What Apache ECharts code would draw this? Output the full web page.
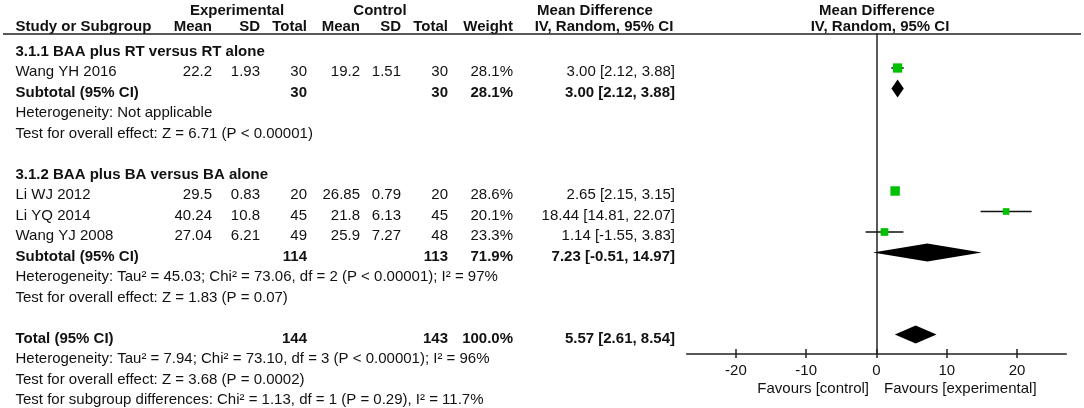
<!DOCTYPE html>
<html><head><meta charset="utf-8">
<script src="https://cdn.jsdelivr.net/npm/echarts@6/dist/echarts.min.js"></script>
<style>html,body{margin:0;padding:0;background:#fff}#c{width:1084px;height:408px}</style>
</head><body><div id="c"></div>
<script>
// ---------- data ----------
const studies   = ['Wang YH 2016', 'Li WJ 2012', 'Li YQ 2014', 'Wang YJ 2008'];
const expMean   = ['22.2', '29.5', '40.24', '27.04'];
const expSD     = ['1.93', '0.83', '10.8', '6.21'];
const expN      = [30, 20, 45, 49];
const ctrlMean  = ['19.2', '26.85', '21.8', '25.9'];
const ctrlSD    = ['1.51', '0.79', '6.13', '7.27'];
const ctrlN     = [30, 20, 45, 48];
const weight    = [28.1, 28.6, 20.1, 23.3];
const md        = [3.00, 2.65, 18.44, 1.14];
const ciLow     = [2.12, 2.15, 14.81, -1.55];
const ciHigh    = [3.88, 3.15, 22.07, 3.83];

const pooledLabels = ['Subtotal (95% CI)', 'Subtotal (95% CI)', 'Total (95% CI)'];
const pooledExpN   = [30, 114, 144];
const pooledCtrlN  = [30, 113, 143];
const pooledWeight = [28.1, 71.9, 100.0];
const pooledMD     = [3.00, 7.23, 5.57];
const pooledLow    = [2.12, -0.51, 2.61];
const pooledHigh   = [3.88, 14.97, 8.54];

const subgroupTitles = ['3.1.1 BAA plus RT versus RT alone', '3.1.2 BAA plus BA versus BA alone'];
const notes = [
  'Heterogeneity: Not applicable',
  'Test for overall effect: Z = 6.71 (P < 0.00001)',
  'Heterogeneity: Tau\u00b2 = 45.03; Chi\u00b2 = 73.06, df = 2 (P < 0.00001); I\u00b2 = 97%',
  'Test for overall effect: Z = 1.83 (P = 0.07)',
  'Heterogeneity: Tau\u00b2 = 7.94; Chi\u00b2 = 73.10, df = 3 (P < 0.00001); I\u00b2 = 96%',
  'Test for overall effect: Z = 3.68 (P = 0.0002)',
  'Test for subgroup differences: Chi\u00b2 = 1.13, df = 1 (P = 0.29), I\u00b2 = 11.7%'
];
const axisTickValues = [-20, -10, 0, 10, 20];
const axisMin = -27, axisMax = 27;
const favourLabels = ['Favours [control]', 'Favours [experimental]'];

// ---------- layout ----------
const W = 1084, H = 408;
const pitch = 20.5;          // row pitch in px
const textY3 = 72;           // text centre of row 3
const markY3 = 68;           // mark centre of row 3
const plotTop = 34, plotBottom = 354, plotLeft = 686.7, plotRight = 1066.3;
const studyRow = [3, 9, 10, 11];
const pooledRow = [4, 12, 16];
const subgroupRow = [2, 8];
const noteRow = [5, 6, 13, 14, 17, 18, 19];
const col = {left: 15.5, expMean: 212, expSD: 260, expN: 307, ctrlMean: 360, ctrlSD: 401,
             ctrlN: 448, weight: 513, ci: 675};
const FONT = '"Liberation Sans", Arial, Helvetica, sans-serif';
const TXT = '#111';

const fmt2 = v => v.toFixed(2);
const ciText = (m, l, h) => fmt2(m) + ' [' + fmt2(l) + ', ' + fmt2(h) + ']';

const cells = [];
function cell(x, row, text, align, bold) { cells.push({x, row, text: String(text), align, bold: !!bold}); }

// headers
cell(237, 0, 'Experimental', 'center', true);
cell(380, 0, 'Control', 'center', true);
cell(595, 0, 'Mean Difference', 'center', true);
cell(877, 0, 'Mean Difference', 'center', true);
const hr = 0.8;
cell(col.left, hr, 'Study or Subgroup', 'left', true);
cell(col.expMean, hr, 'Mean', 'right', true);
cell(col.expSD, hr, 'SD', 'right', true);
cell(col.expN, hr, 'Total', 'right', true);
cell(col.ctrlMean, hr, 'Mean', 'right', true);
cell(col.ctrlSD, hr, 'SD', 'right', true);
cell(col.ctrlN, hr, 'Total', 'right', true);
cell(col.weight, hr, 'Weight', 'right', true);
cell(604, hr, 'IV, Random, 95% CI', 'center', true);
cell(880, hr, 'IV, Random, 95% CI', 'center', true);

subgroupTitles.forEach((t, i) => cell(col.left, subgroupRow[i], t, 'left', true));
studies.forEach((s, i) => {
  const r = studyRow[i];
  cell(col.left, r, s, 'left');
  cell(col.expMean, r, expMean[i], 'right');
  cell(col.expSD, r, expSD[i], 'right');
  cell(col.expN, r, expN[i], 'right');
  cell(col.ctrlMean, r, ctrlMean[i], 'right');
  cell(col.ctrlSD, r, ctrlSD[i], 'right');
  cell(col.ctrlN, r, ctrlN[i], 'right');
  cell(col.weight, r, weight[i].toFixed(1) + '%', 'right');
  cell(col.ci, r, ciText(md[i], ciLow[i], ciHigh[i]), 'right');
});
pooledLabels.forEach((s, i) => {
  const r = pooledRow[i];
  cell(col.left, r, s, 'left', true);
  cell(col.expN, r, pooledExpN[i], 'right', true);
  cell(col.ctrlN, r, pooledCtrlN[i], 'right', true);
  cell(col.weight, r, pooledWeight[i].toFixed(1) + '%', 'right', true);
  cell(col.ci, r, ciText(pooledMD[i], pooledLow[i], pooledHigh[i]), 'right', true);
});
notes.forEach((t, i) => cell(col.left, noteRow[i], t, 'left'));
const favRow = 3 + (389.3 - textY3) / pitch;
cell(869, favRow, favourLabels[0], 'right');
cell(884, favRow, favourLabels[1], 'left');

const studyData = studies.map((s, i) => [md[i], ciLow[i], ciHigh[i], studyRow[i], weight[i]]);
const pooledData = pooledLabels.map((s, i) => [pooledMD[i], pooledLow[i], pooledHigh[i], pooledRow[i]]);

const axisLineStyle = {color: '#222', width: 1.5};

const chart = echarts.init(document.getElementById('c'));
chart.setOption({
  animation: false,
  backgroundColor: '#fff',
  grid: [
    {left: 0, right: 0, top: 0, bottom: 0},
    {left: plotLeft, right: W - plotRight, top: plotTop, bottom: H - plotBottom}
  ],
  xAxis: [
    {gridIndex: 0, type: 'value', min: 0, max: W, show: false},
    {gridIndex: 1, type: 'value', min: axisMin, max: axisMax, position: 'bottom',
     axisLine: {show: true, onZero: false, lineStyle: axisLineStyle},
     axisTick: {show: true, length: 4, customValues: axisTickValues, lineStyle: axisLineStyle},
     axisLabel: {show: true, customValues: axisTickValues, margin: 9, fontSize: 15, color: TXT, fontFamily: FONT},
     splitLine: {show: false}},
    {gridIndex: 1, type: 'value', min: axisMin, max: axisMax, position: 'bottom',
     axisLine: {show: false, onZero: false},
     axisTick: {show: true, inside: true, length: 5, customValues: axisTickValues, lineStyle: axisLineStyle},
     axisLabel: {show: false}, splitLine: {show: false}}
  ],
  yAxis: [
    {gridIndex: 0, type: 'value', inverse: true, min: 3 - textY3 / pitch, max: 3 + (H - textY3) / pitch, show: false},
    {gridIndex: 1, type: 'value', inverse: true,
     min: 3 - (markY3 - plotTop) / pitch, max: 3 + (plotBottom - markY3) / pitch,
     axisLine: {show: true, onZero: true, onZeroAxisIndex: 1, lineStyle: axisLineStyle},
     axisTick: {show: false}, axisLabel: {show: false}, splitLine: {show: false}}
  ],
  graphic: [
    {type: 'line', shape: {x1: 3, y1: plotTop, x2: 1081, y2: plotTop}, style: {stroke: '#222', lineWidth: 1.5}, z: 10}
  ],
  series: [
    {
      type: 'custom', xAxisIndex: 0, yAxisIndex: 0, silent: true,
      data: cells.map(c => [c.x, c.row]),
      renderItem: (params, api) => {
        const c = cells[params.dataIndex];
        const p = api.coord([c.x, c.row]);
        return {type: 'text', x: p[0], y: p[1],
          style: {text: c.text, align: c.align, verticalAlign: 'middle',
                  font: (c.bold ? 'bold ' : '') + '15px ' + FONT, fill: TXT}};
      }
    },
    {
      type: 'custom', xAxisIndex: 1, yAxisIndex: 1, silent: true, clip: false,
      data: studyData, encode: {x: [0, 1, 2], y: 3},
      renderItem: (params, api) => {
        const row = api.value(3);
        const c = api.coord([api.value(0), row]);
        const l = api.coord([api.value(1), row]);
        const h = api.coord([api.value(2), row]);
        const s = api.value(4) * 0.33;
        return {type: 'group', children: [
          {type: 'line', shape: {x1: l[0], y1: c[1], x2: h[0], y2: c[1]}, style: {stroke: '#111', lineWidth: 1.5}},
          {type: 'rect', shape: {x: c[0] - s / 2, y: c[1] - s / 2, width: s, height: s}, style: {fill: '#00c000'}}
        ]};
      }
    },
    {
      type: 'custom', xAxisIndex: 1, yAxisIndex: 1, silent: true, clip: false,
      data: pooledData, encode: {x: [0, 1, 2], y: 3},
      renderItem: (params, api) => {
        const row = api.value(3);
        const c = api.coord([api.value(0), row]);
        const l = api.coord([api.value(1), row]);
        const h = api.coord([api.value(2), row]);
        const hh = 9;
        return {type: 'polygon', shape: {points: [[l[0], c[1]], [c[0], c[1] - hh], [h[0], c[1]], [c[0], c[1] + hh]]},
                style: {fill: '#000'}};
      }
    }
  ]
});
</script>
</body></html>
